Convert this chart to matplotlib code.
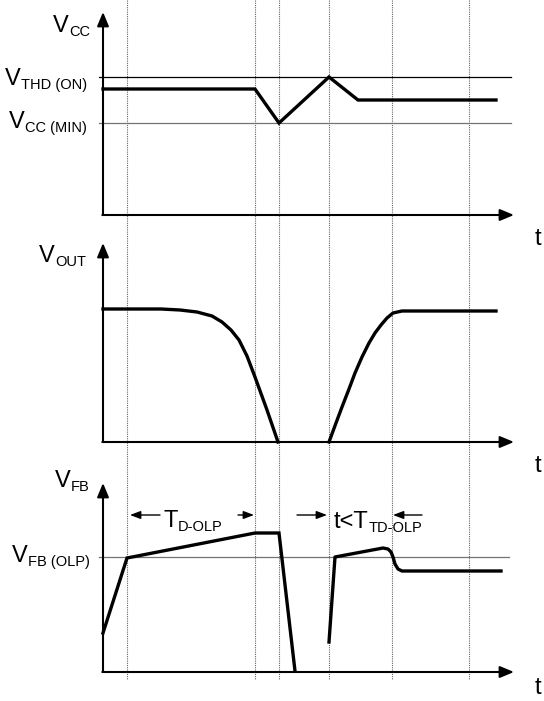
import matplotlib
matplotlib.use("Agg")
import matplotlib.pyplot as plt

plt.rcParams['font.family'] = ['Liberation Sans', 'DejaVu Sans']

# time markers (dotted verticals), shared by the three panels
t_marks = [127, 255, 279, 329, 392, 469]

# panel frames: y-axis x, axis bottom y, arrow top y
axis_x = 103
axis_bottom = [215, 442, 672]
axis_top = [12, 243, 483]
axis_right = 514
t_label_y = [245, 472, 694]

# Vcc panel
vcc_thd_on = 77
vcc_min = 123
vcc_x = [103, 255, 279, 329, 358, 496]
vcc_y = [89, 89, 123, 77, 100, 100]

# Vout panel
vout_x = [103, 161, 180, 197, 212, 222, 231, 239, 247, 255, 267, 278]
vout_y = [309, 309, 310, 312, 316, 322, 330, 340, 356, 377, 410, 442]
vout2_x = [329, 336, 342, 349, 355, 362, 369, 375, 381, 387, 393, 402, 496]
vout2_y = [442, 423, 407, 389, 373, 357, 343, 333, 325, 318, 313, 311, 311]

# Vfb panel
vfb_olp = 557
vfb_x = [103, 127, 255, 279, 295]
vfb_y = [633, 558, 533, 533, 671]
vfb2_x = [329, 335, 383, 388, 391, 393, 395, 398, 402, 501]
vfb2_y = [642, 557, 548, 549, 552, 557, 564, 569, 571, 571]

fig = plt.figure(figsize=(5.44, 7.01), dpi=100)
ax = fig.add_axes([0, 0, 1, 1])
ax.set_xlim(0, 544)
ax.set_ylim(701, 0)
ax.axis('off')

for t in t_marks:
    ax.plot([t, t], [0, 679], color='0.4', lw=0.8, ls=(0, (1, 1)))

# axes with arrows
for yb, yt, yl in zip(axis_bottom, axis_top, t_label_y):
    ax.annotate('', xy=(axis_x, yt), xytext=(axis_x, yb),
                arrowprops=dict(arrowstyle='-|>,head_length=0.6,head_width=0.25',
                                lw=1.5, color='black', mutation_scale=14,
                                shrinkA=0, shrinkB=0))
    ax.annotate('', xy=(axis_right, yb), xytext=(axis_x - 0.7, yb),
                arrowprops=dict(arrowstyle='-|>,head_length=0.6,head_width=0.25',
                                lw=1.5, color='black', mutation_scale=14,
                                shrinkA=0, shrinkB=0))
    ax.text(535, yl, 't', fontsize=17, ha='left', va='baseline')

# threshold lines
ax.plot([99, 511], [vcc_thd_on] * 2, color='black', lw=0.9)
ax.plot([99, 511], [vcc_min] * 2, color='0.45', lw=0.9)
ax.plot([99, 509], [vfb_olp] * 2, color='0.45', lw=0.9)

# traces
lw_tr = 2.4
ax.plot(vcc_x, vcc_y, color='black', lw=lw_tr, solid_joinstyle='miter')
ax.plot(vout_x, vout_y, color='black', lw=lw_tr)
ax.plot(vout2_x, vout2_y, color='black', lw=lw_tr)
ax.plot(vfb_x, vfb_y, color='black', lw=lw_tr, solid_joinstyle='miter')
ax.plot(vfb2_x, vfb2_y, color='black', lw=lw_tr)


def label_right(x, y, main, sub, drop=4):
    s = ax.text(x, y + drop, sub, fontsize=10.5, ha='right', va='baseline')
    ax.annotate(main, xy=(0, y), xycoords=(s, 'data'), fontsize=17,
                ha='right', va='baseline')


def label_left(x, y, main, sub, drop=4):
    m = ax.text(x, y, main, fontsize=17, ha='left', va='baseline')
    ax.annotate(sub, xy=(1, y + drop), xycoords=(m, 'data'), fontsize=10.5,
                ha='left', va='baseline')


label_right(90, 32, 'V', 'CC')
label_right(87, 85, 'V', 'THD (ON)')
label_right(87, 128, 'V', 'CC (MIN)')
label_right(86, 262, 'V', 'OUT')
label_right(89, 487, 'V', 'FB')
label_right(90, 562, 'V', 'FB (OLP)')

# timing annotations
small_arrow = dict(arrowstyle='-|>,head_length=0.45,head_width=0.17',
                   lw=1.0, color='black', mutation_scale=14,
                   shrinkA=0, shrinkB=0)
ann_y = 515
ax.annotate('', xy=(130, ann_y), xytext=(160, ann_y), arrowprops=small_arrow)
ax.annotate('', xy=(254, ann_y), xytext=(238, ann_y), arrowprops=small_arrow)
ax.annotate('', xy=(327, ann_y), xytext=(297, ann_y), arrowprops=small_arrow)
ax.annotate('', xy=(393, ann_y), xytext=(422, ann_y), arrowprops=small_arrow)
label_left(163, 527, 'T', 'D-OLP')
label_left(334, 528, 't<T', 'TD-OLP')

fig.savefig('out.png', dpi=100)
